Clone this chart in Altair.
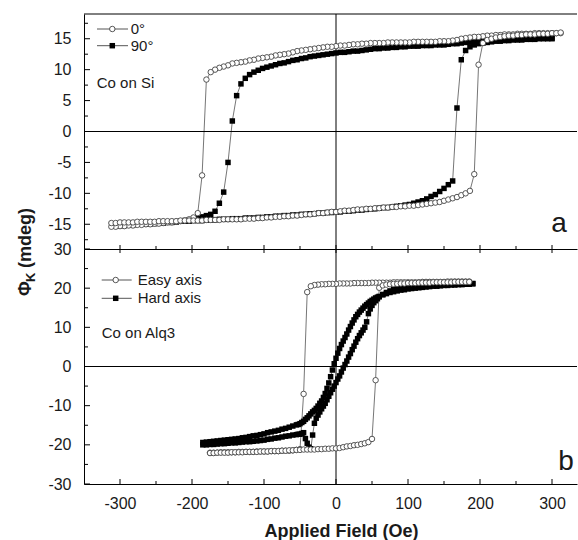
import altair as alt
import pandas as pd

FONT = "Liberation Sans"
INK = "#1a1a1a"

# ---------------- data: Co on Si (panel a) ----------------
FIELD_SI = [-312, -306, -300, -294, -288, -282, -276, -270, -264, -258,
            -252, -246, -240, -234, -228, -222, -216, -210, -204, -198,
            -192, -186, -180, -174, -168, -162, -156, -150, -144, -138,
            -132, -126, -120, -114, -108, -102, -96, -90, -84, -78,
            -72, -66, -60, -54, -48, -42, -36, -30, -24, -18,
            -12, -6, 0, 6, 12, 18, 24, 30, 36, 42,
            48, 54, 60, 66, 72, 78, 84, 90, 96, 102,
            108, 114, 120, 126, 132, 138, 144, 150, 156, 162,
            168, 174, 180, 186, 192, 198, 204, 210, 216, 222,
            228, 234, 240, 246, 252, 258, 264, 270, 276, 282,
            288, 294, 300, 306, 312]

SI0_DOWN = [-15.4, -15.4, -15.3, -15.3, -15.2, -15.2, -15.1, -15.1, -15.0, -15.0,
            -14.9, -14.9, -14.8, -14.7, -14.7, -14.6, -14.5, -14.4, -14.2, -13.9,
            -13.2, -7.1, 8.4, 9.6, 10.0, 10.3, 10.5, 10.7, 11.0, 11.1,
            11.2, 11.3, 11.5, 11.6, 11.8, 11.9, 12.0, 12.1, 12.3, 12.4,
            12.5, 12.6, 12.8, 13.0, 13.1, 13.2, 13.3, 13.4, 13.5, 13.6,
            13.7, 13.7, 13.8, 13.9, 13.9, 14.0, 14.1, 14.1, 14.2, 14.2,
            14.3, 14.3, 14.3, 14.3, 14.4, 14.4, 14.4, 14.4, 14.4, 14.4,
            14.5, 14.5, 14.5, 14.5, 14.5, 14.5, 14.6, 14.6, 14.6, 14.7,
            14.8, 15.0, 15.1, 15.2, 15.3, 15.3, 15.4, 15.5, 15.5, 15.6,
            15.6, 15.7, 15.7, 15.7, 15.8, 15.8, 15.8, 15.8, 15.9, 15.9,
            15.9, 15.9, 15.9, 15.9, 15.9]

SI0_UP = [-14.8, -14.8, -14.7, -14.7, -14.7, -14.7, -14.6, -14.6, -14.6, -14.6,
          -14.6, -14.5, -14.5, -14.5, -14.5, -14.5, -14.4, -14.4, -14.4, -14.4,
          -14.4, -14.4, -14.3, -14.3, -14.3, -14.3, -14.2, -14.2, -14.2, -14.2,
          -14.2, -14.1, -14.1, -14.1, -14.0, -14.0, -13.9, -13.9, -13.8, -13.8,
          -13.7, -13.7, -13.6, -13.6, -13.5, -13.4, -13.4, -13.3, -13.2, -13.2,
          -13.1, -13.0, -13.0, -12.9, -12.8, -12.8, -12.7, -12.6, -12.6, -12.5,
          -12.5, -12.4, -12.4, -12.3, -12.3, -12.2, -12.2, -12.1, -12.1, -12.0,
          -12.0, -11.9, -11.8, -11.7, -11.6, -11.5, -11.4, -11.2, -11.0, -10.8,
          -10.6, -10.3, -10.0, -9.6, -6.9, 10.8, 14.3, 14.8, 15.0, 15.2,
          15.3, 15.4, 15.5, 15.5, 15.6, 15.6, 15.7, 15.7, 15.7, 15.8,
          15.8, 15.8, 15.9, 15.9, 16.0]

SI90_DOWN = [None, -15.3, -15.2, -15.2, -15.1, -15.1, -15.0, -15.0, -15.0, -14.9,
             -14.9, -14.8, -14.8, -14.7, -14.7, -14.6, -14.5, -14.4, -14.3, -14.2,
             -14.0, -13.8, -13.6, -13.4, -12.9, -11.6, -9.8, -5.0, 1.7, 5.8,
             7.7, 8.6, 9.2, 9.6, 9.9, 10.2, 10.4, 10.6, 10.8, 11.0,
             11.1, 11.3, 11.5, 11.6, 11.8, 11.9, 12.1, 12.2, 12.3, 12.4,
             12.5, 12.6, 12.7, 12.8, 12.8, 12.9, 13.0, 13.0, 13.1, 13.2,
             13.3, 13.4, 13.4, 13.5, 13.5, 13.6, 13.6, 13.7, 13.7, 13.8,
             13.8, 13.8, 13.9, 13.9, 13.9, 14.0, 14.0, 14.0, 14.1, 14.2,
             14.2, 14.3, 14.4, 14.5, 14.5, 14.6, 14.6, 14.7, 14.7, 14.8,
             14.8, 14.8, 14.9, 14.9, 14.9, 15.0, 15.0, 15.0, 15.0, 15.1,
             15.1, 15.1, 15.1, None, None]

SI90_UP = [None, -15.0, -15.0, -15.0, -14.9, -14.9, -14.9, -14.8, -14.8, -14.8,
           -14.7, -14.7, -14.7, -14.6, -14.6, -14.6, -14.5, -14.5, -14.5, -14.4,
           -14.4, -14.4, -14.3, -14.3, -14.3, -14.2, -14.2, -14.2, -14.1, -14.1,
           -14.1, -14.0, -14.0, -14.0, -13.9, -13.9, -13.8, -13.8, -13.7, -13.7,
           -13.6, -13.6, -13.5, -13.5, -13.4, -13.4, -13.3, -13.3, -13.2, -13.2,
           -13.1, -13.1, -13.0, -13.0, -12.9, -12.9, -12.8, -12.7, -12.7, -12.6,
           -12.5, -12.5, -12.4, -12.3, -12.3, -12.2, -12.1, -12.0, -11.9, -11.8,
           -11.6, -11.4, -11.2, -10.9, -10.5, -10.2, -9.7, -9.2, -8.6, -8.0,
           3.8, 11.6, 13.1, 13.7, 14.0, 14.2, 14.3, 14.4, 14.5, 14.6,
           14.6, 14.7, 14.7, 14.8, 14.8, 14.8, 14.9, 14.9, 14.9, 15.0,
           15.0, 15.0, 15.0, None, None]

# ---------------- data: Co on Alq3 (panel b) ----------------
FIELD_EASY = [-185, -180, -175, -170, -165, -160, -155, -150, -145, -140,
              -135, -130, -125, -120, -115, -110, -105, -100, -95, -90,
              -85, -80, -75, -70, -65, -60, -55, -50, -45, -40,
              -35, -30, -25, -20, -15, -10, -5, 0, 5, 10,
              15, 20, 25, 30, 35, 40, 45, 50, 55, 60,
              65, 70, 75, 80, 85, 90, 95, 100, 105, 110,
              115, 120, 125, 130, 135, 140, 145, 150, 155, 160,
              165, 170, 175, 180, 185, 190]

EASY_DOWN = [None, None, -22.0, -22.0, -22.0, -21.9, -21.9, -21.9, -21.9, -21.9,
             -21.8, -21.8, -21.8, -21.8, -21.8, -21.7, -21.7, -21.7, -21.7, -21.6,
             -21.6, -21.6, -21.5, -21.5, -21.5, -21.4, -21.3, -21.1, -7.0, 19.0,
             20.5, 20.8, 20.9, 21.0, 21.0, 21.1, 21.1, 21.1, 21.2, 21.2,
             21.2, 21.2, 21.3, 21.3, 21.3, 21.3, 21.3, 21.4, 21.4, 21.4,
             21.4, 21.4, 21.4, 21.5, 21.5, 21.5, 21.5, 21.5, 21.5, 21.5,
             21.5, 21.6, 21.6, 21.6, 21.6, 21.6, 21.6, 21.6, 21.7, 21.7,
             21.7, 21.7, 21.7, 21.7, 21.7, None]

EASY_UP = [None, None, -22.1, -22.1, -22.0, -22.0, -22.0, -22.0, -21.9, -21.9,
           -21.9, -21.9, -21.8, -21.8, -21.8, -21.8, -21.7, -21.7, -21.7, -21.6,
           -21.6, -21.6, -21.5, -21.5, -21.4, -21.4, -21.3, -21.3, -21.2, -21.2,
           -21.2, -21.2, -21.1, -21.1, -21.0, -21.0, -20.9, -20.9, -20.8, -20.6,
           -20.4, -20.3, -20.1, -20.0, -19.8, -19.6, -19.3, -18.5, -3.5, 20.1,
           20.7, 20.9, 21.0, 21.1, 21.1, 21.2, 21.2, 21.3, 21.3, 21.3,
           21.4, 21.4, 21.4, 21.4, 21.5, 21.5, 21.5, 21.5, 21.5, 21.5,
           21.6, 21.6, 21.6, 21.6, 21.6, None]

FIELD_HARD = [-185, -180, -175, -170, -165, -160, -155, -150, -145, -140,
              -135, -130, -125, -120, -115, -110, -105, -100, -95, -90,
              -85, -80, -75, -70, -65, -60, -55,
              -52.5, -50, -47.5, -45, -42.5, -40, -37.5, -35, -32.5, -30,
              -27.5, -25, -22.5, -20, -17.5, -15, -12.5, -10, -7.5, -5,
              -2.5, 0, 2.5, 5, 7.5, 10, 12.5, 15, 17.5, 20,
              22.5, 25, 27.5, 30, 32.5, 35, 37.5, 40, 42.5, 45,
              47.5, 50, 52.5, 55, 57.5,
              60, 65, 70, 75, 80, 85, 90, 95, 100, 105,
              110, 115, 120, 125, 130, 135, 140, 145, 150, 155,
              160, 165, 170, 175, 180, 185, 190]

HARD_DOWN = [-20.0, -20.0, -19.9, -19.9, -19.8, -19.7, -19.7, -19.6, -19.5, -19.5,
             -19.4, -19.3, -19.2, -19.2, -19.1, -19.0, -18.9, -18.8, -18.6, -18.5,
             -18.3, -18.2, -18.0, -17.8, -17.7, -17.5, -17.4,
             -17.3, -17.3, -17.1, -16.9, -18.4, -19.6, -20.6, -21.0, -17.5, -14.5,
             -13.2, -12.4, -11.6, -10.8, -10.1, -9.4, -8.5, -7.6, -6.7, -5.8,
             -5.0, -4.1, -3.2, -2.4, -1.4, -0.4, 0.5, 1.4, 2.4, 3.3,
             4.3, 5.2, 6.2, 7.1, 7.9, 8.6, 9.3, 10.0, 11.4, 13.5,
             14.7, 15.6, 16.3, 16.8, 17.3,
             17.8, 18.4, 18.9, 19.3, 19.6, 19.8, 20.0, 20.1, 20.3, 20.4,
             20.5, 20.6, 20.7, 20.7, 20.8, 20.8, 20.9, 20.9, 21.0, 21.0,
             21.0, 21.1, 21.1, 21.1, 21.2, 21.2, 21.2]

HARD_UP = [-19.4, -19.3, -19.2, -19.1, -19.0, -18.9, -18.8, -18.7, -18.6, -18.5,
           -18.4, -18.2, -18.1, -17.9, -17.7, -17.6, -17.4, -17.2, -16.9, -16.7,
           -16.5, -16.3, -16.0, -15.8, -15.5, -15.2, -14.9,
           -14.8, -14.6, -14.3, -14.0, -13.5, -13.1, -12.6, -12.1, -11.6, -11.2,
           -10.7, -10.1, -9.4, -8.8, -7.9, -6.9, -5.6, -4.2, -2.6, -0.9,
           0.7, 2.1, 3.4, 4.6, 5.6, 6.5, 7.4, 8.3, 9.3, 10.2,
           11.1, 11.9, 12.7, 13.3, 13.9, 14.4, 14.9, 15.4, 15.8, 16.2,
           16.6, 16.9, 17.2, 17.5, 17.7,
           17.9, 18.3, 18.6, 18.9, 19.1, 19.3, 19.5, 19.6, 19.8, 19.9,
           20.0, 20.1, 20.2, 20.3, 20.4, 20.5, 20.5, 20.6, 20.7, 20.7,
           20.8, 20.8, 20.9, 20.9, 21.0, 21.0, 21.1]

# ---------------- ticks and labels ----------------
X_TICKS = [-300, -200, -100, 0, 100, 200, 300]
X_MINOR = [-250, -150, -50, 50, 150, 250]
Y_TICKS_SI = [-15, -10, -5, 0, 5, 10, 15]
Y_MINOR_SI = [-17.5, -12.5, -7.5, -2.5, 2.5, 7.5, 12.5, 17.5]
Y_TICKS_ALQ = [-30, -20, -10, 0, 10, 20, 30]
Y_MINOR_ALQ = [-25, -15, -5, 5, 15, 25]
Y_DOMAIN_SI = [-19, 19]
Y_DOMAIN_ALQ = [-30, 30]
X_DOMAIN = [-350, 334.7]

SI_LEGEND = ["0°", "90°"]
ALQ_LEGEND = ["Easy axis", "Hard axis"]
SI_SAMPLE = "Co on Si"
ALQ_SAMPLE = "Co on Alq3"
X_TITLE = "Applied Field (Oe)"

W, H = 493, 235
ONE = pd.DataFrame({"k": [0]})
ZERO = pd.DataFrame({"z": [0]})


def loop_frame(field, down, up, name):
    d = [(x, y) for x, y in zip(field, down) if y is not None][::-1]
    u = [(x, y) for x, y in zip(field, up) if y is not None]
    pts = d + u
    return pd.DataFrame({"H": [p[0] for p in pts], "phi": [p[1] for p in pts],
                         "series": name, "seq": list(range(len(pts)))})


def text_at(txt, x, y, size=15, weight="normal", align="left", baseline="middle", angle=0):
    return alt.Chart(ONE).mark_text(align=align, baseline=baseline, fontSize=size, fontWeight=weight,
                                    font=FONT, color=INK, angle=angle).encode(
        x=alt.value(x), y=alt.value(y), text=alt.value(txt))


def legend_entry(label, x0, x1, cx, tx, yy, kind):
    line = alt.Chart(ONE).mark_rule(color="#555", strokeWidth=1).encode(
        x=alt.value(x0), x2=alt.value(x1), y=alt.value(yy))
    if kind == "open":
        mk = alt.Chart(ONE).mark_point(shape="circle", size=30, filled=False, fill="white", fillOpacity=1,
                                       stroke="#444", strokeWidth=0.9, opacity=1)
    else:
        mk = alt.Chart(ONE).mark_square(size=30, color="black", opacity=1)
    mk = mk.encode(x=alt.value(cx), y=alt.value(yy))
    return [line, mk, text_at(label, tx, yy)]


def panel(open_df, filled_df, ydom, yticks, yminor, legend, lx, sample, sample_pos, letter, letter_pos, bottom):
    xs = alt.Scale(domain=X_DOMAIN, nice=False, zero=False)
    ys = alt.Scale(domain=ydom, nice=False, zero=False)
    if bottom:
        xaxis = alt.Axis(values=X_TICKS, labelExpr="'' + datum.value", ticks=False, grid=False,
                         domainColor="black", domainWidth=1, labelFontSize=16, labelPadding=11,
                         labelColor=INK, labelFont=FONT, title=X_TITLE, titleFontSize=18,
                         titleFontWeight="bold", titleColor=INK, titleFont=FONT,
                         titleBaseline="alphabetic", titleX=257, titleY=52)
    else:
        xaxis = alt.Axis(values=X_TICKS, labels=False, ticks=False, grid=False,
                         domainColor="black", domainWidth=1, title=None)
    yaxis = alt.Axis(values=yticks, labelExpr="'' + datum.value", ticks=False, grid=False,
                     domainColor="black", domainWidth=1, labelFontSize=16, labelPadding=13,
                     labelColor=INK, labelFont=FONT, title=None)

    def X(f):
        return alt.X(f, scale=xs, axis=xaxis)

    def Y(f):
        return alt.Y(f, scale=ys, axis=yaxis)

    def x_ticks(values, y1, y2):
        return alt.Chart(pd.DataFrame({"v": values})).mark_rule(color="black", strokeWidth=1).encode(
            x=X("v:Q"), y=alt.value(y1), y2=alt.value(y2))

    def y_ticks(values, length):
        return alt.Chart(pd.DataFrame({"v": values})).mark_rule(color="black", strokeWidth=1).encode(
            y=Y("v:Q"), x=alt.value(0), x2=alt.value(length))

    both = pd.concat([filled_df, open_df], ignore_index=True)
    lines = alt.Chart(both).mark_line(color="#666", strokeWidth=0.9).encode(
        x=X("H:Q"), y=Y("phi:Q"), detail="series:N", order="seq:Q")
    zero_h = alt.Chart(ZERO).mark_rule(color="black", strokeWidth=1).encode(y=Y("z:Q"))
    zero_v = alt.Chart(ZERO).mark_rule(color="black", strokeWidth=1).encode(x=X("z:Q"))
    squares = alt.Chart(filled_df).mark_square(size=30, color="black", opacity=1).encode(
        x=X("H:Q"), y=Y("phi:Q"))
    circles = alt.Chart(open_df).mark_point(shape="circle", size=30, filled=False, fill="white",
                                            fillOpacity=1, stroke="#444", strokeWidth=0.9,
                                            opacity=1).encode(x=X("H:Q"), y=Y("phi:Q"))

    layers = [lines, zero_h, zero_v, y_ticks(yticks, 6), y_ticks(yminor, 4)]
    if bottom:
        layers += [x_ticks(X_TICKS, H, H - 5), x_ticks(X_MINOR, H, H - 3), x_ticks(X_TICKS, 0, 4)]
    else:
        layers += [x_ticks(X_TICKS, H - 4, H), x_ticks(X_MINOR, H - 3, H),
                   alt.Chart(ONE).mark_rule(color="black", strokeWidth=1).encode(
                       x=alt.value(0), x2=alt.value(W), y=alt.value(0))]
    layers += [squares, circles]
    x0, x1, cx, tx, y0, y1 = lx
    layers += legend_entry(legend[0], x0, x1, cx, tx, y0, "open")
    layers += legend_entry(legend[1], x0, x1, cx, tx, y1, "filled")
    layers.append(text_at(sample, sample_pos[0], sample_pos[1]))
    layers.append(text_at(letter, letter_pos[0], letter_pos[1], size=28, align="center",
                          baseline="alphabetic"))
    if not bottom:
        # shared y-axis title  Φ_K (mdeg)
        layers.append(text_at("Φ", -53, 282, size=18, weight="bold", baseline="alphabetic", angle=270))
        layers.append(text_at("K", -49, 268, size=13, weight="bold", baseline="alphabetic", angle=270))
        layers.append(text_at("(mdeg)", -53, 254, size=18, weight="bold", baseline="alphabetic", angle=270))
    return alt.layer(*layers).properties(width=W, height=H)


si0 = loop_frame(FIELD_SI, SI0_DOWN, SI0_UP, "0deg")
si90 = loop_frame(FIELD_SI, SI90_DOWN, SI90_UP, "90deg")
easy = loop_frame(FIELD_EASY, EASY_DOWN, EASY_UP, "easy")
hard = loop_frame(FIELD_HARD, HARD_DOWN, HARD_UP, "hard")

top = panel(si0, si90, Y_DOMAIN_SI, Y_TICKS_SI, Y_MINOR_SI, SI_LEGEND,
            (13, 44, 28.3, 46.7, 15, 31.7), SI_SAMPLE, (12.7, 69.3), "a", (475, 218), False)
bot = panel(easy, hard, Y_DOMAIN_ALQ, Y_TICKS_ALQ, Y_MINOR_ALQ, ALQ_LEGEND,
            (17.7, 47.7, 31.7, 53.7, 31, 49.3), ALQ_SAMPLE, (17.7, 84.3), "b", (482, 221), True)

chart = alt.vconcat(top, bot, spacing=0, bounds="flush").properties(
    padding={"left": 17, "top": 13, "right": 0, "bottom": 0}
).configure(font=FONT).configure_view(stroke=None)

chart.save("out.html", embed_options={"renderer": "svg", "actions": False})
